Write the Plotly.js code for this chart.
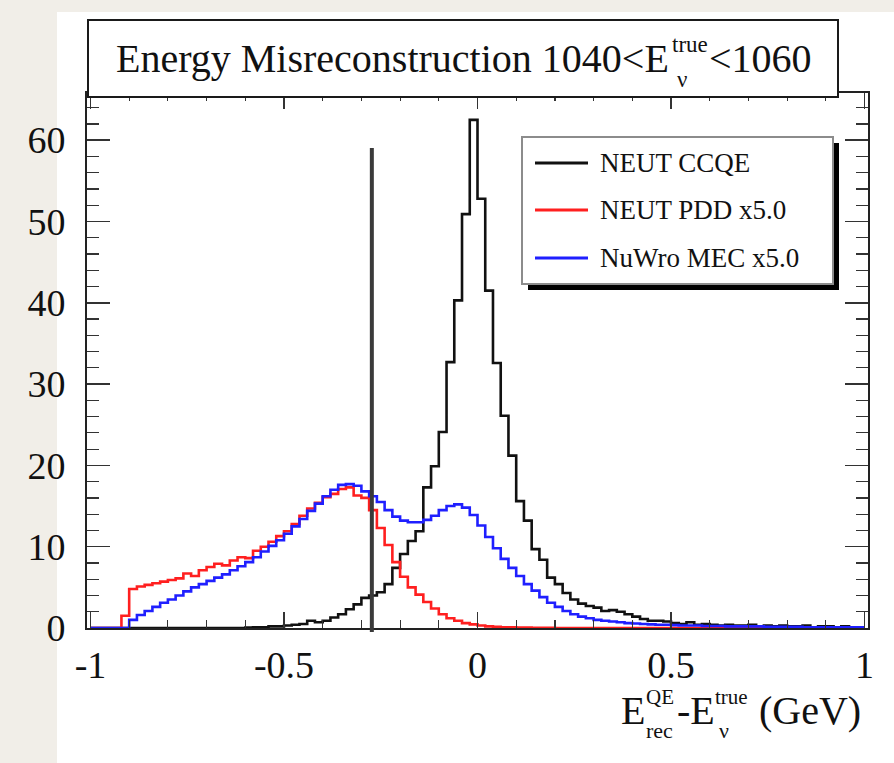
<!DOCTYPE html>
<html>
<head>
<meta charset="utf-8">
<script src="https://cdn.plot.ly/plotly-3.0.1.min.js"></script>
<style>
  html, body { margin: 0; padding: 0; background: #f1eee8; }
  #chart { width: 894px; height: 763px; }
</style>
</head>
<body>
<div id="chart"></div>
<script>
// ---------------- data ----------------
const binLow = -1.0;
const binWidth = 0.02;

const seriesNames = ["NEUT CCQE", "NEUT PDD x5.0", "NuWro MEC x5.0"];

// NEUT CCQE (100 bins from -1 to 1)
const neutCCQE = [
  0, 0, 0, 0, 0, 0, 0, 0, 0, 0,
  0, 0, 0, 0, 0, 0, 0, 0, 0, 0,
  0.05, 0.1, 0.1, 0.2, 0.2, 0.3, 0.4, 0.5, 0.9, 0.7,
  0.9, 1.3, 1.7, 2.3, 2.9, 3.7, 4.0, 4.4, 5.4, 7.4,
  9.1, 10.7, 11.9, 17.3, 19.9, 24.1, 32.7, 40.3, 50.9, 62.5,
  52.8, 41.5, 32.6, 26.1, 21.2, 15.6, 13.2, 9.7, 8.4, 6.2,
  5.4, 4.3, 3.5, 3.0, 2.7, 2.5, 2.1, 2.2, 2.0, 1.7,
  1.4, 1.1, 0.9, 0.9, 0.8, 0.6, 0.5, 0.7, 0.4, 0.5,
  0.4, 0.3, 0.4, 0.3, 0.3, 0.4, 0.2, 0.3, 0.2, 0.3,
  0.2, 0.2, 0.3, 0.1, 0.2, 0.2, 0.1, 0.2, 0.1, 0.1
];

// NEUT PDD x5.0
const neutPDD = [
  0, 0, 0, 0, 1.5, 4.8, 5.1, 5.3, 5.5, 5.7,
  5.9, 6.1, 6.7, 6.4, 7.1, 7.5, 7.9, 7.7, 8.3, 8.7,
  8.6, 9.5, 10.0, 10.6, 11.3, 11.9, 12.8, 13.8, 14.7, 15.4,
  16.1, 16.5, 17.1, 17.3, 16.3, 16.0, 14.5, 12.3, 10.2, 8.1,
  6.3, 5.0, 4.1, 3.2, 2.4, 1.7, 1.2, 0.9, 0.6, 0.45,
  0.3, 0.2, 0.15, 0.1, 0.1, 0.05, 0.05, 0.03, 0.03, 0.02,
  0, 0, 0, 0, 0, 0, 0, 0, 0, 0,
  0, 0, 0, 0, 0, 0, 0, 0, 0, 0,
  0, 0, 0, 0, 0, 0, 0, 0, 0, 0,
  0, 0, 0, 0, 0, 0, 0, 0, 0, 0
];

// NuWro MEC x5.0
const nuwroMEC = [
  0, 0, 0, 0, 0, 1.0, 1.6, 2.1, 2.6, 3.1,
  3.5, 4.0, 4.5, 5.0, 5.4, 5.8, 6.2, 6.6, 7.1, 7.6,
  8.1, 8.7, 9.4, 10.1, 10.8, 11.6, 12.5, 13.4, 14.4, 15.3,
  16.2, 17.0, 17.6, 17.7, 17.5, 16.8, 16.2, 15.5, 14.5, 13.7,
  13.2, 13.0, 13.0, 13.3, 13.8, 14.5, 15.0, 15.2, 14.8, 13.9,
  12.6, 11.2, 9.8, 8.5, 7.4, 6.4, 5.4, 4.6, 3.8, 3.1,
  2.6, 2.1, 1.7, 1.4, 1.2, 1.0, 0.9, 0.8, 0.7, 0.6,
  0.55, 0.5, 0.45, 0.4, 0.4, 0.35, 0.3, 0.3, 0.3, 0.25,
  0.25, 0.25, 0.2, 0.2, 0.2, 0.2, 0.2, 0.15, 0.15, 0.15,
  0.15, 0.15, 0.1, 0.1, 0.1, 0.1, 0.1, 0.1, 0.1, 0.1
];

const xTickVals = [-1, -0.5, 0, 0.5, 1];
const xTickText = ["-1", "-0.5", "0", "0.5", "1"];
const cutValue = -0.273;   // the vertical marker line

// ---------------- helpers ----------------
function edgesFor(values) {
  const x = [], y = [];
  for (let i = 0; i < values.length; i++) { x.push(binLow + i * binWidth); y.push(values[i]); }
  x.push(binLow + values.length * binWidth); y.push(values[values.length - 1]);
  return {x, y};
}

const W = 894, H = 763, ML = 87, MR = 26, MT = 93, MB = 135;
const PW = W - ML - MR, PH = H - MT - MB;
const px = v => (v - ML) / PW;
const py = v => (H - MB - v) / PH;

const FONT = "Liberation Serif, Times New Roman, serif";
const colors = ["#111111", "#ff1f1f", "#1f1fff"];
const series = [neutCCQE, neutPDD, nuwroMEC];

const traces = series.map((vals, i) => {
  const e = edgesFor(vals);
  return {
    type: "scatter", mode: "lines", name: seriesNames[i],
    x: e.x, y: e.y,
    line: {shape: "hv", color: colors[i], width: 2.6},
    hoverinfo: "skip", showlegend: false
  };
});

// ---------------- decorations ----------------
const shapes = [
  // white page area
  {type: "rect", xref: "paper", yref: "paper", x0: px(57), x1: px(894), y0: py(763), y1: py(12),
   fillcolor: "#ffffff", line: {width: 0}, layer: "below"},
  // vertical marker line
  {type: "line", xref: "x", yref: "paper", x0: cutValue, x1: cutValue, y0: py(632), y1: py(148),
   line: {color: "#3a3a3a", width: 4}, layer: "above"},
  // title box
  {type: "rect", xref: "paper", yref: "paper", x0: px(88), x1: px(838), y0: py(97), y1: py(20),
   fillcolor: "#ffffff", line: {color: "#1a1a1a", width: 2}, layer: "above"},
  // legend shadow
  {type: "rect", xref: "paper", yref: "paper", x0: px(528), x1: px(839), y0: py(290), y1: py(143),
   fillcolor: "#000000", line: {width: 0}, layer: "above"},
  // legend box
  {type: "rect", xref: "paper", yref: "paper", x0: px(522), x1: px(833), y0: py(284), y1: py(137),
   fillcolor: "#ffffff", line: {color: "#8c8c8c", width: 2}, layer: "above"}
];
const legendY = [163, 210, 258];
legendY.forEach((yy, i) => {
  shapes.push({type: "line", xref: "paper", yref: "paper", x0: px(535), x1: px(588), y0: py(yy), y1: py(yy),
    line: {color: colors[i], width: 3}, layer: "above"});
});

const ann = (text, xPix, yPix, size, anchor) => ({
  text, x: px(xPix), y: py(yPix), xref: "paper", yref: "paper",
  xanchor: anchor || "left", yanchor: "middle", showarrow: false, borderpad: 0,
  font: {family: FONT, size, color: "#111111"}
});

const annotations = [
  // title
  ann("Energy Misreconstruction 1040&lt;E", 670, 58, 40, "right"),
  ann("true", 671, 44, 23),
  ann("ν", 676, 80, 23),
  ann("&lt;1060", 708, 58, 40),
  // x-axis title
  ann("E", 620, 710, 40),
  ann("QE", 645, 697, 21),
  ann("rec", 645, 730, 22),
  ann("-E", 676, 710, 40),
  ann("true", 714, 697, 21),
  ann("ν", 718, 730, 22),
  ann("(GeV)", 758, 710, 40)
];
seriesNames.forEach((n, i) => annotations.push(ann(n, 599, legendY[i], 27)));

const layout = {
  width: W, height: H,
  margin: {l: ML, r: MR, t: MT, b: MB, pad: 0},
  paper_bgcolor: "#f1eee8",
  plot_bgcolor: "#ffffff",
  showlegend: false,
  font: {family: FONT, size: 38, color: "#111111"},
  xaxis: {
    range: [-1.009, 1.009], tickmode: "array", tickvals: xTickVals, ticktext: xTickText,
    ticks: "inside", ticklen: 16, tickwidth: 1.5, tickcolor: "#333",
    minor: {tickmode: "linear", tick0: 0, dtick: 0.1, ticks: "inside", ticklen: 8, tickwidth: 1.2, tickcolor: "#333"},
    showline: true, linecolor: "#222", linewidth: 2, mirror: "ticks",
    showgrid: false, zeroline: false,
    tickfont: {family: FONT, size: 38, color: "#111"}, ticklabelstandoff: 2
  },
  yaxis: {
    range: [0, 65.8], tickmode: "linear", tick0: 0, dtick: 10,
    ticks: "inside", ticklen: 23, tickwidth: 1.5, tickcolor: "#333",
    minor: {tickmode: "linear", tick0: 0, dtick: 2, ticks: "inside", ticklen: 12, tickwidth: 1.2, tickcolor: "#333"},
    showline: true, linecolor: "#222", linewidth: 2, mirror: "ticks",
    showgrid: false, zeroline: false,
    tickfont: {family: FONT, size: 38, color: "#111"}, ticklabelstandoff: 12
  },
  shapes, annotations
};

Plotly.newPlot("chart", traces, layout, {displayModeBar: false, staticPlot: true});
</script>
</body>
</html>
